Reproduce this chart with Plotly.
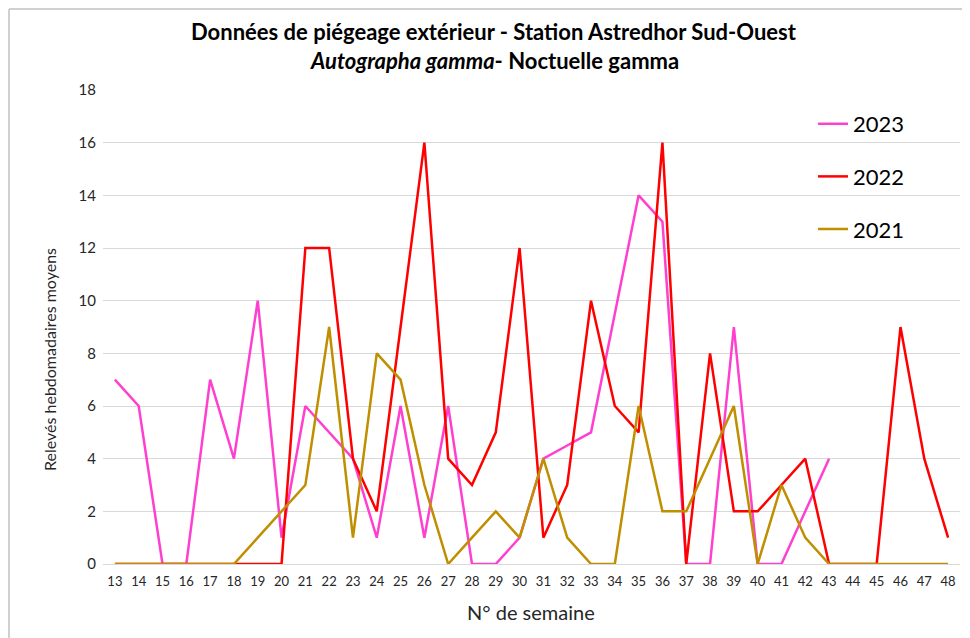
import plotly.graph_objects as go

semaines = list(range(13, 49))

v2023 = [7, 6, 0, 0, 7, 4, 10, 1, 6, 5, 4, 1, 6, 1, 6, 0, 0, 1, 4, 4.5, 5, 9.5,
         14, 13, 0, 0, 9, 0, 0, 2, 4, None, None, None, None, None]
v2022 = [0, 0, 0, 0, 0, 0, 0, 0, 12, 12, 4, 2, 9, 16, 4, 3, 5, 12, 1, 3, 10, 6,
         5, 16, 0, 8, 2, 2, 3, 4, 0, 0, 0, 9, 4, 1]
v2021 = [0, 0, 0, 0, 0, 0, 1, 2, 3, 9, 1, 8, 7, 3, 0, 1, 2, 1, 4, 1, 0, 0,
         6, 2, 2, 4, 6, 0, 3, 1, 0, 0, 0, 0, 0, 0]

series = [("2023", v2023, "#FF40CF"), ("2022", v2022, "#FF0000"), ("2021", v2021, "#BF8F00")]

fig = go.Figure()
for nom, vals, coul in series:
    fig.add_trace(go.Scatter(x=semaines, y=vals, name=nom, mode="lines", legendgroup=nom,
                             line=dict(color=coul, width=2.5), connectgaps=False))

# la page html ajoute une marge de 8 px : on réduit la figure d'autant
W, H = 962, 630
L, R, T, B = 95, 10, 82, 74
pw, ph = W - L - R, H - T - B

def px(x):  # pixel horizontal de la figure -> coordonnée paper
    return (x - L) / pw

def py(y):  # pixel vertical de la figure -> coordonnée paper
    return (H - B - y) / ph

fig.update_layout(
    width=W, height=H,
    margin=dict(l=L, r=R, t=T, b=B, autoexpand=False),
    paper_bgcolor="white", plot_bgcolor="white",
    font=dict(family="Lato, Open Sans, sans-serif", color="#404040"),
    xaxis=dict(
        range=[12.5, 48.5], tickmode="array", tickvals=semaines,
        ticktext=[str(s) for s in semaines], showgrid=False, zeroline=False,
        showline=False, ticks="", tickfont=dict(size=13, color="#262626"),
        ticklabelstandoff=8, automargin=False,
    ),
    yaxis=dict(
        range=[0, 18], dtick=2, showgrid=True, gridcolor="#D9D9D9", gridwidth=1,
        zeroline=True, zerolinecolor="#D9D9D9", zerolinewidth=1, showline=False,
        tickfont=dict(size=15, color="#262626"), ticks="", ticklabelstandoff=6,
        automargin=False,
    ),
    legend=dict(
        x=0.8285, y=0.9726, xanchor="left", yanchor="top",
        font=dict(size=22, color="#000000"), bgcolor="rgba(0,0,0,0)",
        tracegroupgap=21, itemwidth=30,
    ),
    showlegend=True,
)

# titre sur deux lignes
fig.add_annotation(text="<b>Données de piégeage extérieur - Station Astredhor Sud-Ouest</b>",
                   xref="paper", yref="paper", x=px(486), y=py(24),
                   xanchor="center", yanchor="middle", showarrow=False,
                   font=dict(size=22, color="#000000"))
fig.add_annotation(text="<b><i>Autographa gamma</i>- Noctuelle gamma</b>",
                   xref="paper", yref="paper", x=px(486), y=py(52),
                   xanchor="center", yanchor="middle", showarrow=False,
                   font=dict(size=22, color="#000000"))

fig.add_annotation(text="Relevés hebdomadaires moyens", textangle=-90,
                   xref="paper", yref="paper", x=px(42), y=py(352),
                   xanchor="center", yanchor="middle", showarrow=False,
                   font=dict(size=16, color="#262626"))
fig.add_annotation(text="N° de semaine", xref="paper", yref="paper",
                   x=0.4994, y=py(604), xanchor="center", yanchor="middle",
                   showarrow=False, font=dict(size=20, color="#262626"))

# cadre gris (bords haut et gauche)
fig.add_shape(type="line", xref="paper", yref="paper",
              x0=px(1), x1=px(W), y0=py(1), y1=py(1),
              line=dict(color="#D0D0D0", width=2), layer="above")
fig.add_shape(type="line", xref="paper", yref="paper",
              x0=px(1), x1=px(1), y0=py(1), y1=py(H),
              line=dict(color="#D0D0D0", width=2), layer="above")

fig.write_html("out.html")
